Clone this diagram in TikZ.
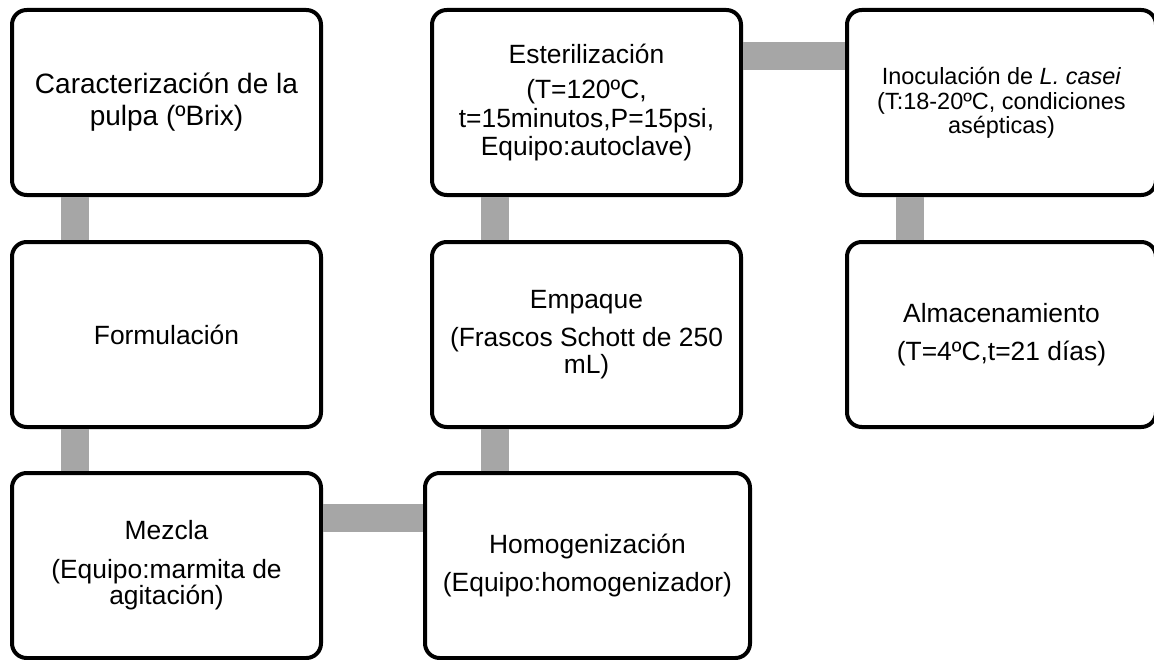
\documentclass[tikz,border=0pt]{standalone}
\usepackage{fontspec}
\setmainfont{Liberation Sans}
\usepackage{tikz}
\usepackage{xcolor}
\definecolor{bargray}{RGB}{166,166,166}

\begin{document}
\begin{tikzpicture}[x=0.75pt, y=-0.75pt,
        stage/.style={draw, rectangle, rounded corners=11pt, line width=3pt, fill=white, align=center, minimum width=231.75pt, minimum height=138.75pt, inner sep=0pt, font=\fontsize{19.8}{20}\selectfont},
        bar/.style={draw=bargray, line width=21pt}]
                \useasboundingbox (0, 0) rectangle (1154, 660);

                \node[stage, font=\fontsize{21}{24}\selectfont] (left 1) at (166.5, 102.5) {Caracterización de la\\pulpa (ºBrix)};
                \node[stage] (left 2) at (166.5, 334.5) {Formulación};
                \node[stage] (left 3) at (166.5, 565.5) {Mezcla\\[9pt](Equipo:marmita de\\agitación)};

                \node[stage, minimum width=243.75pt] (mid 3) at (587.5, 565.5) {Homogenización\\[9pt](Equipo:homogenizador)};
                \node[stage] (mid 2) at (586.5, 334.5) {Empaque\\[9pt](Frascos Schott de 250\\mL)};
                \node[stage, font=\fontsize{19.8}{21.5}\selectfont] (mid 1) at (586.5, 102.5) {Esterilización\\[5pt](T=120ºC,\\t=15minutos,P=15psi,\\Equipo:autoclave)};

                \node[stage, font=\fontsize{17.6}{18}\selectfont] (right 1) at (1001.5, 102.5) {Inoculación de \textit{L. casei}\\[1pt](T:18-20ºC, condiciones\\asépticas)};
                \node[stage] (right 2) at (1001.5, 334.5) {Almacenamiento\\[9pt](T=4ºC,t=21 días)};

                \draw[bar] ([xshift=48.75pt]left 1.south west)--([xshift=48.75pt]left 2.north west);
                \draw[bar] ([xshift=48.75pt]left 2.south west)--([xshift=48.75pt]left 3.north west);
                \draw[bar] ([yshift=-35.6pt]left 3.north east)--([yshift=-35.6pt]left 3.north east -| mid 3.west);

                \draw[bar] ([xshift=48.75pt]mid 2.south west |- mid 3.north)--([xshift=48.75pt]mid 2.south west);
                \draw[bar] ([xshift=48.75pt]mid 2.north west)--([xshift=48.75pt]mid 1.south west);
                \draw[bar] ([yshift=-36pt]mid 1.north east)--([yshift=-36pt]right 1.north west);

                \draw[bar] ([xshift=48.75pt]right 1.south west)--([xshift=48.75pt]right 2.north west);
            \end{tikzpicture}
\end{document}
